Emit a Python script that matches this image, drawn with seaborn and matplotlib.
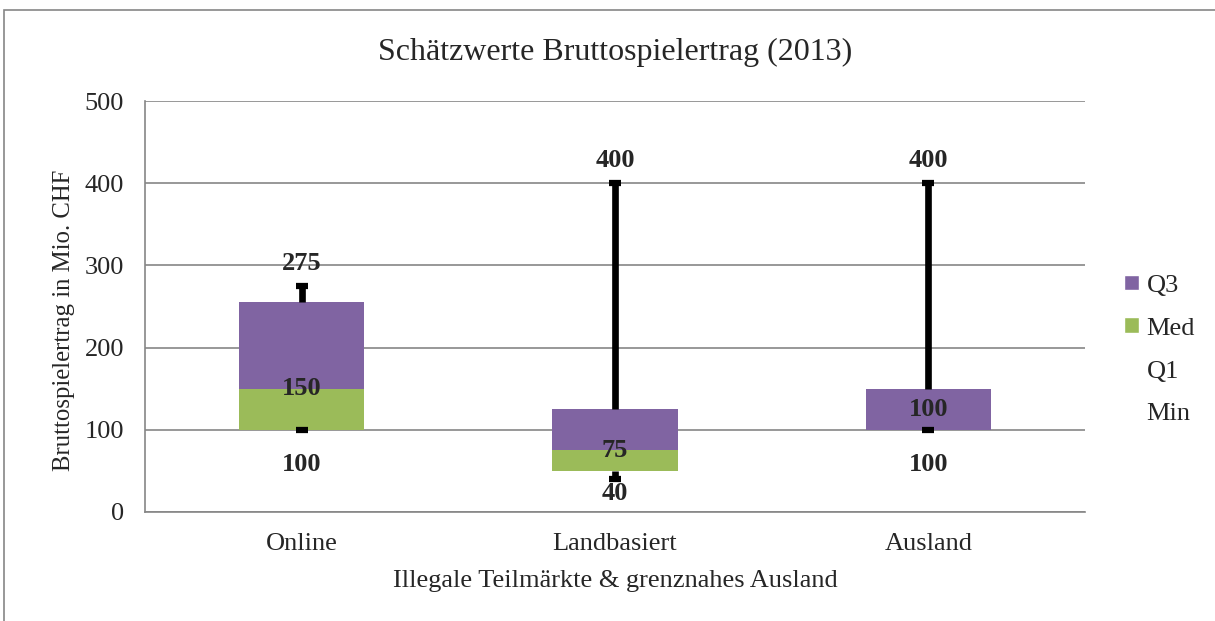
import pandas as pd
import numpy as np
import matplotlib.pyplot as plt
from matplotlib.patches import Patch, Rectangle
import seaborn as sns

# Werte je Teilmarkt (Mio. CHF)
kategorien = ['Online', 'Landbasiert', 'Ausland']
min_werte = [100, 40, 100]
q1_werte = [100, 50, 100]
med_werte = [150, 75, 100]
q3_werte = [255, 125, 150]
max_werte = [275, 400, 400]

lila = '#8064A2'
gruen = '#9BBB59'
grau = '#868686'

df = pd.DataFrame({'kategorie': kategorien, 'min': min_werte, 'q1': q1_werte,
                   'med': med_werte, 'q3': q3_werte, 'max': max_werte})
df['med_hoehe'] = df['med'] - df['q1']
df['q3_hoehe'] = df['q3'] - df['med']

sns.set_style('white')
plt.rcParams['font.family'] = ['Liberation Serif', 'DejaVu Serif']

fig = plt.figure(figsize=(12.15, 6.21), dpi=100)
ax = fig.add_axes([145 / 1215, 1 - 512 / 621, 940 / 1215, 411 / 621])

# Box: unterer Teil (Med) und oberer Teil (Q3), gestapelt auf Q1
sns.barplot(data=df, x='kategorie', y='med_hoehe', bottom=df['q1'], color=gruen,
            width=0.4, saturation=1, ax=ax, zorder=2, linewidth=0)
sns.barplot(data=df, x='kategorie', y='q3_hoehe', bottom=df['med'], color=lila,
            width=0.4, saturation=1, ax=ax, zorder=2, linewidth=0)

# Whisker
xs = np.arange(len(df))
ax.vlines(xs, df['q3'], df['max'], color='black', lw=4.8, zorder=3)
ax.vlines(xs, df['min'], df['q1'], color='black', lw=4.8, zorder=3)
ax.plot(xs, df['max'], ls='none', marker='_', ms=8.5, mew=4.5, color='black', zorder=4)
ax.plot(xs, df['min'], ls='none', marker='_', ms=8.5, mew=4.5, color='black', zorder=4)

# Beschriftungen
lab = dict(ha='center', va='center', fontsize=19, fontweight='bold', zorder=5)
for i, r in df.iterrows():
    ax.annotate(f"{r['max']}", (i, r['max']), xytext=(0, 16), textcoords='offset points', **lab)
    ax.annotate(f"{r['min']}", (i, r['min'] * 0.6), xytext=(0, -1), textcoords='offset points', **lab)
    y_med = r['med'] if r['med'] > r['q1'] else (r['q1'] + r['q3']) / 2
    ax.annotate(f"{r['med']}", (i, y_med), xytext=(0, 0), textcoords='offset points', **lab)

ax.set_ylim(0, 500)
ax.set_xlim(-0.5, 2.5)
ax.set_yticks(range(0, 501, 100))
ax.yaxis.grid(True, color=grau, lw=1.2, zorder=0)
ax.set_axisbelow(True)
for s in ['top', 'right']:
    ax.spines[s].set_visible(False)
for s in ['left', 'bottom']:
    ax.spines[s].set_color(grau)
    ax.spines[s].set_linewidth(1.2)
ax.set_xticks([-0.5, 0.5, 1.5, 2.5], minor=True)
ax.tick_params(axis='x', which='major', length=0, labelsize=19, pad=15)
ax.tick_params(axis='x', which='minor', length=7, color=grau, width=1.2, direction='out')
ax.tick_params(axis='y', length=7, color=grau, width=1.2, direction='out', labelsize=19, pad=8)
ax.set_xlabel('Illegale Teilmärkte & grenznahes Ausland', fontsize=19, labelpad=11)
ax.set_ylabel('Bruttospielertrag in Mio. CHF', fontsize=17.8, labelpad=7)
ax.yaxis.label.set_y(0.467)

fig.text(0.506, 1 - 52 / 621, 'Schätzwerte Bruttospielertrag (2013)', ha='center', va='center', fontsize=23)

handles = [Patch(facecolor=lila), Patch(facecolor=gruen),
           Patch(facecolor='none', edgecolor='none'), Patch(facecolor='none', edgecolor='none')]
fig.legend(handles, ['Q3', 'Med', 'Q1', 'Min'], loc='center left',
           bbox_to_anchor=(1124 / 1215, 1 - 350 / 621), frameon=False, fontsize=19,
           handlelength=0.55, handleheight=0.55, handletextpad=0.3, labelspacing=0.78,
           borderpad=0, borderaxespad=0)

fig.patches.append(Rectangle((4 / 1215, -0.1), 1.2, 1.1 - 10 / 621, transform=fig.transFigure,
                             fill=False, edgecolor=grau, lw=1.2))

fig.savefig('out.png', dpi=100)
